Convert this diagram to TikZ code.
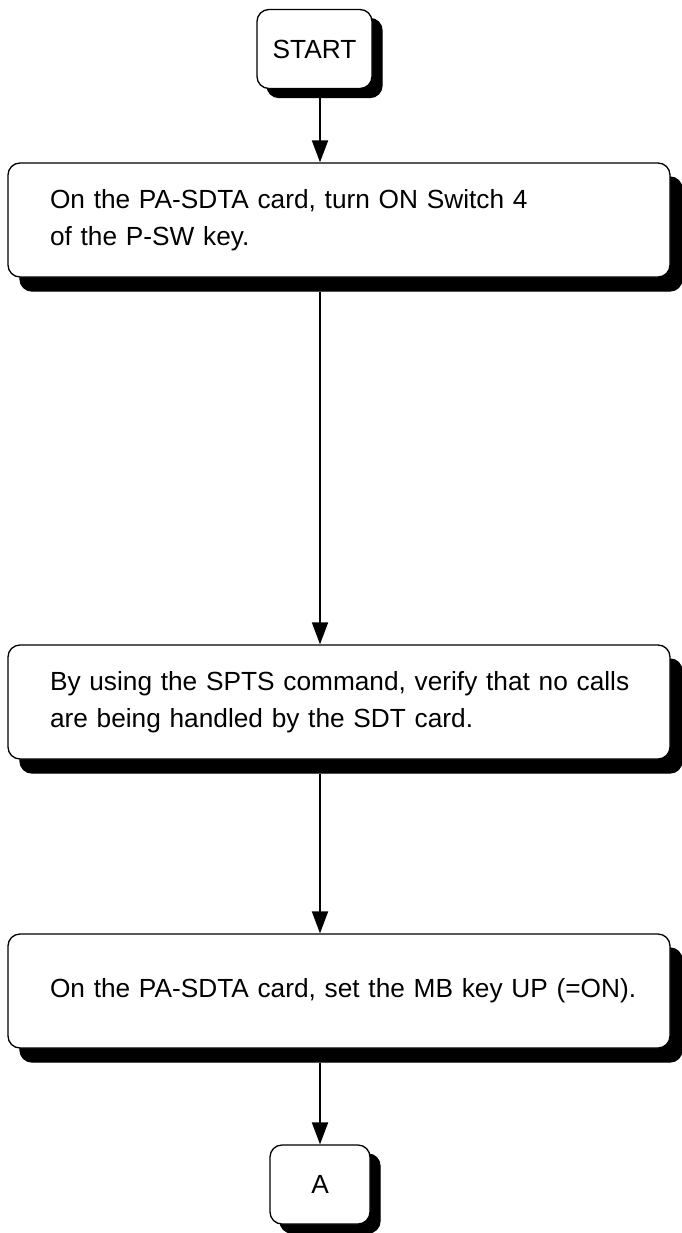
\documentclass[tikz,border=0pt]{standalone}
\usepackage{fontspec}
\setmainfont{Liberation Sans}
\usepackage{tikz}
\usetikzlibrary{arrows.meta,positioning,calc,shadows}
\tikzset{
  box/.style={rectangle, rounded corners=12pt, draw=black, line width=1.3pt,
              fill=white, font=\fontsize{26.25}{37}\selectfont},
  termbox/.style={box, align=center, minimum height=79pt,
              copy shadow={shadow xshift=10pt, shadow yshift=-9pt, fill=black, draw=black}},
  stepbox/.style={box, align=left, text width=606pt, inner xsep=28pt,
              minimum height=114pt, execute at begin node={\leftskip=14pt\relax},
              copy shadow={shadow xshift=12pt, shadow yshift=-14pt, fill=black, draw=black}},
  flow/.style={-{Triangle[length=22pt, width=16pt]}, line width=2pt, draw=black},
}

\begin{document}
\begin{tikzpicture}[x=1pt, y=1pt]
  \useasboundingbox (0,0) rectangle (682,-1233);
  \node[termbox, minimum width=115pt] (start) at (314.5,-49) {START};
  \node[stepbox] (sw4) at (339,-220) {On the PA-SDTA card, turn ON Switch 4\\of the P-SW key.};
  \node[stepbox] (spts) at (339,-702) {By using the SPTS command, verify that no calls\\are being handled by the SDT card.};
  \node[stepbox] (mbkey) at (339,-991) {On the PA-SDTA card, set the MB key UP (=ON).};
  \node[termbox, minimum width=100pt] (conA) at (320,-1184.5) {A};
  \draw[flow, shorten <=9pt] (start.south -| conA) -- (sw4.north -| conA);
  \draw[flow, shorten <=14pt] (sw4.south -| conA) -- (spts.north -| conA);
  \draw[flow, shorten <=14pt] (spts.south -| conA) -- (mbkey.north -| conA);
  \draw[flow, shorten <=14pt] (mbkey.south -| conA) -- (conA.north);
\end{tikzpicture}
\end{document}
